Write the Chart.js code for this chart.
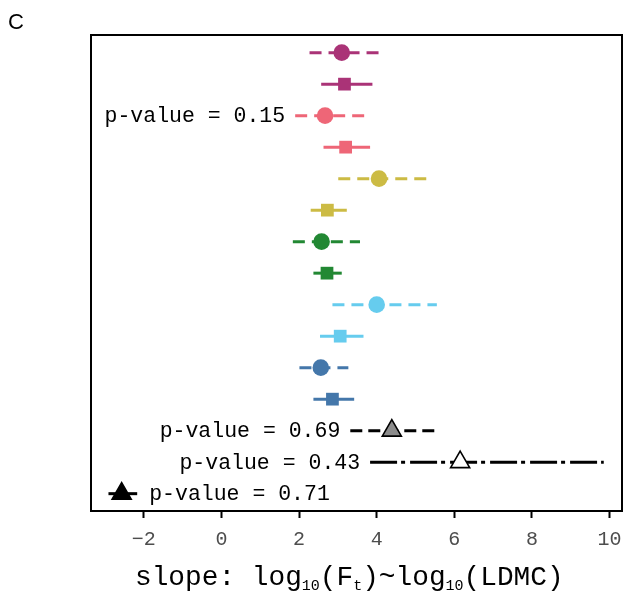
<!DOCTYPE html>
<html>
<head>
<meta charset="utf-8">
<script src="https://cdn.jsdelivr.net/npm/chart.js@4.4.0/dist/chart.umd.min.js"></script>
<style>
  html, body { margin: 0; padding: 0; background: #fff; }
  #wrap { width: 623px; height: 591px; }
</style>
</head>
<body>
<div id="wrap"><canvas id="c" width="623" height="591"></canvas></div>
<script>
// ---- data ----
const rows      = [1, 2, 3, 4, 5, 6, 7, 8, 9, 10, 11, 12, 13, 14, 15];
const estimates = [3.10, 3.17, 2.67, 3.20, 4.06, 2.73, 2.58, 2.72, 4.00, 3.06, 2.56, 2.86, 4.39, 6.15, -2.57];
const lowerCI   = [2.27, 2.57, 1.90, 2.63, 3.01, 2.30, 1.84, 2.37, 2.86, 2.54, 2.01, 2.37, 3.32, 3.83, -2.91];
const upperCI   = [4.07, 3.89, 3.72, 3.83, 5.33, 3.23, 3.57, 3.10, 5.55, 3.66, 3.27, 3.42, 5.59, 9.85, -2.17];
const pLabels   = [null, null, 'p-value = 0.15', null, null, null, null, null, null, null, null, null,
                   'p-value = 0.69', 'p-value = 0.43', 'p-value = 0.71'];
const xTicks    = [-2, 0, 2, 4, 6, 8, 10];
const xTickLabels = ['\u22122', '0', '2', '4', '6', '8', '10'];

// ---- styles ----
const colors  = ['#AA3377','#AA3377','#EE6677','#EE6677','#CCBB44','#CCBB44','#228833','#228833',
                 '#66CCEE','#66CCEE','#4477AA','#4477AA','#000000','#000000','#000000'];
const fills   = ['#AA3377','#AA3377','#EE6677','#EE6677','#CCBB44','#CCBB44','#228833','#228833',
                 '#66CCEE','#66CCEE','#4477AA','#4477AA','#8C8C8C','#FFFFFF','#000000'];
const shapes  = ['circle','rect','circle','rect','circle','rect','circle','rect',
                 'circle','rect','circle','rect','triangle','triangle','triangle'];
const dashes  = [[12,7],[],[12,7],[],[12,7],[],[12,7],[],[12,7],[],[12,7],[],[12,6],[27,4,4,5],[]];

const datasets = [];
rows.forEach((r, i) => {
  datasets.push({
    type: 'line',
    data: [{x: lowerCI[i], y: r}, {x: upperCI[i], y: r}],
    borderColor: colors[i],
    borderWidth: 3,
    borderDash: dashes[i],
    pointRadius: 0,
    showLine: true,
    fill: false,
    order: 2
  });
  const isTri = shapes[i] === 'triangle';
  datasets.push({
    type: 'scatter',
    data: [{x: estimates[i], y: r}],
    pointStyle: shapes[i],
    pointRadius: isTri ? 11 : (shapes[i] === 'rect' ? 9 : 8.3),
    backgroundColor: fills[i],
    borderColor: colors[i],
    borderWidth: isTri ? 1.6 : 0,
    order: 1
  });
});

const decor = {
  id: 'decor',
  afterDraw(chart) {
    const ctx = chart.ctx;
    const a = chart.chartArea;
    const xs = chart.scales.x, ys = chart.scales.y;
    ctx.save();
    ctx.strokeStyle = '#000';
    ctx.lineWidth = 2;
    ctx.strokeRect(a.left, a.top, a.right - a.left, a.bottom - a.top);

    // x tick labels
    ctx.fillStyle = '#4D4D4D';
    ctx.font = '20px "Liberation Mono"';
    ctx.textAlign = 'center';
    ctx.textBaseline = 'alphabetic';
    xTicks.forEach((v, i) => {
      ctx.fillText(xTickLabels[i], xs.getPixelForValue(v), a.bottom + 34);
    });

    // p-value labels
    ctx.fillStyle = '#000';
    ctx.font = '21.5px "Liberation Mono"';
    rows.forEach((r, i) => {
      if (!pLabels[i]) return;
      const y = ys.getPixelForValue(r) + 6.5;
      if (i === rows.length - 1) {
        ctx.textAlign = 'left';
        ctx.fillText(pLabels[i], xs.getPixelForValue(upperCI[i]) + 12, y);
      } else {
        ctx.textAlign = 'right';
        ctx.fillText(pLabels[i], xs.getPixelForValue(lowerCI[i]) - 10, y);
      }
    });

    // axis title with subscripts
    const segs = [['slope: log',0],['10',1],['(F',0],['t',1],[')~log',0],['10',1],['(LDMC)',0]];
    let x = 135;
    const base = 585;
    ctx.textAlign = 'left';
    segs.forEach(([t, sub]) => {
      ctx.font = sub ? '15px "Liberation Mono"' : '27.8px "Liberation Mono"';
      ctx.fillText(t, x, sub ? base + 4.5 : base);
      x += ctx.measureText(t).width;
    });

    ctx.font = '22px "Liberation Sans"';
    ctx.fillText('C', 8, 28.5);
    ctx.restore();
  }
};

new Chart(document.getElementById('c'), {
  type: 'scatter',
  data: { datasets },
  options: {
    responsive: false,
    animation: false,
    devicePixelRatio: 1,
    layout: { autoPadding: false, padding: { left: 91, right: 1, top: 35, bottom: 0 } },
    plugins: { legend: { display: false }, tooltip: { enabled: false } },
    scales: {
      x: {
        type: 'linear',
        min: -3.36,
        max: 10.32,
        afterBuildTicks: s => { s.ticks = xTicks.map(v => ({ value: v })); },
        afterFit: s => { s.height = 80; },
        border: { display: false },
        grid: { drawOnChartArea: false, drawTicks: true, tickLength: 7, tickColor: '#000', tickWidth: 2, color: '#000' },
        ticks: { display: false }
      },
      y: { type: 'linear', display: false, min: 0.44, max: 15.55, reverse: true }
    }
  },
  plugins: [decor]
});
</script>
</body>
</html>
